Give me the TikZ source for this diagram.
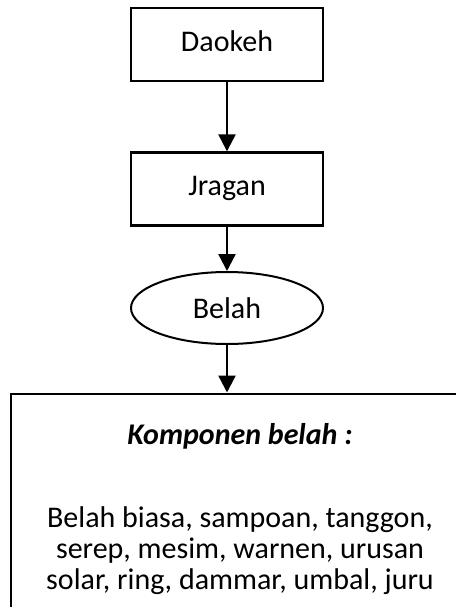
\documentclass[tikz,border=0pt]{standalone}
\usepackage{fontspec}
\setmainfont{Carlito}
\usetikzlibrary{shapes.geometric,arrows.meta}
\begin{document}
\begin{tikzpicture}[x=0.5pt,y=-0.5pt,
  every node/.style={font=\fontsize{15}{15.5}\selectfont},
  stepbox/.style={draw, line width=1.2pt, minimum width=96pt, minimum height=36.5pt, inner sep=0pt},
  oval/.style={draw, ellipse, line width=1pt, minimum width=96pt, minimum height=36pt, inner sep=0pt},
  flow/.style={-{Triangle[width=8.5pt,length=8.5pt]}, line width=1.2pt}]
\clip (0,0) rectangle (456,607);
% flow chain
\node[stepbox] (daokeh) at (227,44.5) {\raisebox{3pt}{Daokeh}};
\node[stepbox] (jragan) at (227,189) {\raisebox{3pt}{Jragan}};
\node[oval] (belah) at (227,308) {Belah};
% component box, running past the right and bottom edges
\node[draw, line width=1.2pt, minimum width=229pt, minimum height=130pt, inner sep=0pt, anchor=north] (komp) at (240,392.5) {};
\node[anchor=base, font=\fontsize{15}{15.5}\selectfont\bfseries\itshape] (title) at (240,444) {Komponen belah :};
\node[anchor=base] (l1) at (240,527) {Belah biasa, sampoan, tanggon,};
\node[anchor=base] (l2) at (240,558) {serep, mesim, warnen, urusan};
\node[anchor=base] (l3) at (240,589) {solar, ring, dammar, umbal, juru};
% connectors
\draw[flow] (daokeh) -- (jragan);
\draw[flow] (jragan) -- (belah);
\draw[flow] (belah) -- (komp.north -| belah);
\end{tikzpicture}
\end{document}
